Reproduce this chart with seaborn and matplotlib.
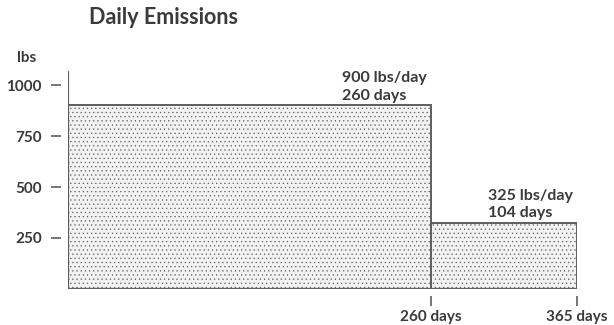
import matplotlib
matplotlib.use("Agg")
import matplotlib.pyplot as plt
import numpy as np
import seaborn as sns

# --- data ------------------------------------------------------------
day_edges = [0, 260, 365]
lbs_per_day = [900, 325]
period_days = [260, 104]
y_ticks = [250, 500, 750, 1000]
x_tick_labels = ["260 days", "365 days"]

sns.set_theme(style="white")
plt.rcParams["font.family"] = ["Lato", "DejaVu Sans"]
plt.rcParams["hatch.color"] = "#d2d2d2"
plt.rcParams["hatch.linewidth"] = 0.4
TXT = "#3a3a3a"
LINE = "#5e5e5e"

fig = plt.figure(figsize=(6.14, 3.25), dpi=100)
ax = fig.add_axes([0.111, 0.111, 0.829, 0.671])

mids = [(a + b) / 2 for a, b in zip(day_edges[:-1], day_edges[1:])]
sns.histplot(
    x=mids, weights=lbs_per_day, bins=day_edges, ax=ax,
    stat="count", color="#f2f2f2", alpha=1.0,
    edgecolor=LINE, linewidth=1.4, hatch="....",
)

ax.set_xlim(0, day_edges[-1])
ax.set_ylim(0, 1070)
ax.set_xlabel("")
ax.set_ylabel("")

# spines pushed out so the tick dashes float off the axis lines
for side in ["top", "right"]:
    ax.spines[side].set_visible(False)
for side in ["left", "bottom"]:
    ax.spines[side].set_position(("outward", 5))
    ax.spines[side].set_color("none")
ax.axvline(0, color=LINE, lw=1.6, zorder=5)
ax.axhline(0, color=LINE, lw=1.6, zorder=5)

ax.set_yticks(y_ticks)
ax.set_yticklabels([str(v) for v in y_ticks])
ax.set_xticks(day_edges[1:])
ax.set_xticklabels(x_tick_labels)
ax.tick_params(axis="both", direction="out", length=7, width=1.2,
               color=LINE, labelcolor=TXT, labelsize=11)
ax.tick_params(axis="y", left=True, pad=7)
ax.tick_params(axis="x", bottom=True, pad=3)
for lab in ax.get_xticklabels() + ax.get_yticklabels():
    lab.set_fontweight("bold")

# bar annotations, block right aligned to the bar's right edge
for right, val, days in zip(day_edges[1:], lbs_per_day, period_days):
    ax.annotate(f"{val} lbs/day\n{days} days", xy=(right, val),
                xytext=(-3, 2), textcoords="offset points",
                ha="right", va="bottom", multialignment="left",
                fontsize=11.5, fontweight="bold",
                color=TXT, linespacing=1.3)

fig.text(0.145, 0.945, "Daily Emissions", fontsize=15.5, fontweight="bold",
         color=TXT, ha="left", va="center")
fig.text(0.028, 0.82, "lbs", fontsize=11, fontweight="bold", color=TXT,
         ha="left", va="center")

fig.savefig("out.png", dpi=100)
